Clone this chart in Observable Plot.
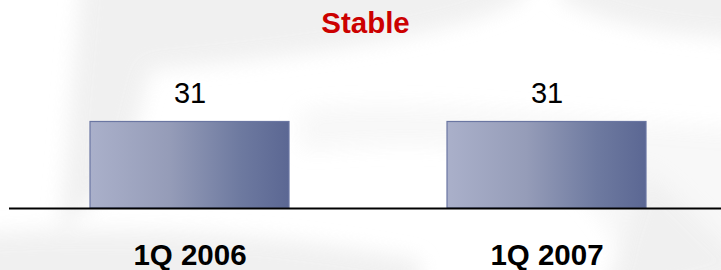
<!DOCTYPE html>
<html>
<head>
<meta charset="utf-8">
<script src="https://cdn.jsdelivr.net/npm/d3@7"></script>
<script src="https://cdn.jsdelivr.net/npm/@observablehq/plot@0.6"></script>
<style>
  html, body { margin: 0; padding: 0; background: #ffffff; }
  #wrap { position: relative; width: 721px; height: 270px; overflow: hidden; }
  #bg { position: absolute; left: -40px; top: -40px; width: 801px; height: 350px; }
  #chart { position: absolute; left: 0; top: 0; }
  svg { font-family: "Liberation Sans", Arial, sans-serif; }
</style>
</head>
<body>
<div id="wrap">
  <svg id="bg" width="801" height="350" viewBox="-40 -40 801 350">
    <defs>
      <filter id="blur" x="-30%" y="-30%" width="160%" height="160%"><feGaussianBlur stdDeviation="10"/></filter>
    </defs>
    <g filter="url(#blur)" fill="#ededed" opacity="0.8">
      <path d="M85,-40 L540,-40 L520,0 C470,30 330,55 150,70 L135,130 C120,170 100,200 60,230 L80,0 Z"/>
      <path d="M560,-40 L760,-40 L760,40 C650,35 600,20 560,0 Z"/>
      <path d="M300,110 C420,95 560,120 760,130 L760,310 L650,310 C600,200 560,160 480,150 C400,140 330,150 300,150 Z" opacity="0.5"/>
      <path d="M-40,235 C120,225 260,230 420,260 L420,310 L-40,310 Z"/>
      <path d="M640,170 C690,200 710,240 760,270 L600,310 C620,240 640,200 640,170 Z"/>
    </g>
  </svg>
  <div id="chart"></div>
</div>
<script>
const categories = ["1Q 2006", "1Q 2007"];
const values = [31, 31];
const valueLabels = ["31", "31"];
const title = "Stable";

const data = categories.map((c, i) => ({category: c, value: values[i], label: valueLabels[i]}));

const chart = Plot.plot({
  width: 721,
  height: 270,
  marginLeft: 9,
  marginRight: 0,
  marginTop: 40,
  marginBottom: 62,
  style: {background: "transparent", fontFamily: "Liberation Sans, Arial, sans-serif"},
  x: {type: "band", domain: categories, range: [17.4, 718.6], paddingInner: 0.4413, paddingOuter: 0.2},
  y: {domain: [0, 60.2], axis: null},
  marks: [
    () => {
      const ns = "http://www.w3.org/2000/svg";
      const defs = document.createElementNS(ns, "defs");
      defs.innerHTML = `<linearGradient id="barGrad" x1="0" y1="0" x2="1" y2="0">
        <stop offset="0" stop-color="#aab0ca"/>
        <stop offset="0.4" stop-color="#959cb8"/>
        <stop offset="0.75" stop-color="#6e7aa0"/>
        <stop offset="1" stop-color="#5b6793"/>
      </linearGradient>`;
      return defs;
    },
    Plot.barY(data, {x: "category", y: "value", fill: "url(#barGrad)", stroke: "#6a76a2", strokeWidth: 1.2}),
    Plot.ruleY([0], {stroke: "#000", strokeWidth: 2}),
    Plot.text(data, {x: "category", y: "value", text: "label", dy: -28, lineAnchor: "middle", fontSize: 29, fill: "#000"}),
    Plot.text([title], {frameAnchor: "top", dy: -17, lineAnchor: "middle", fontSize: 29.5, fontWeight: "bold", fill: "#cc0000"}),
    Plot.axisX({tickSize: 0, tickPadding: 36, fontSize: 29.5, fontWeight: "bold", fill: "#000", label: null})
  ]
});
document.getElementById("chart").appendChild(chart);
</script>
</body>
</html>
